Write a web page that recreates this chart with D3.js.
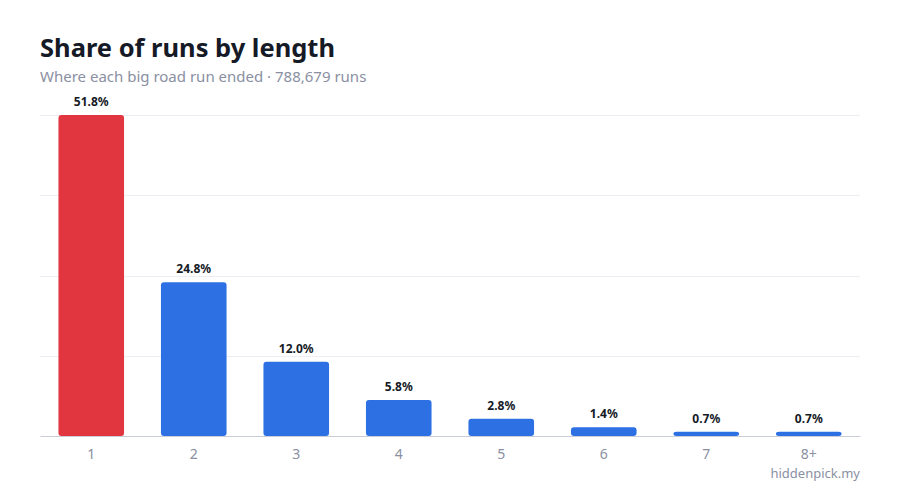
<!DOCTYPE html>
<html>
<head>
<meta charset="utf-8">
<script src="https://cdn.jsdelivr.net/npm/d3@7"></script>
<style>
  body { margin: 0; background: #fff; }
  svg { display: block; font-family: "Noto Sans", "Open Sans", sans-serif; }
</style>
</head>
<body>
<div id="chart"></div>
<script>
var categories = ["1", "2", "3", "4", "5", "6", "7", "8+"];
var shares = [51.8, 24.8, 12.0, 5.8, 2.8, 1.4, 0.7, 0.7];
var highlight = "1";

var width = 900, height = 500,
    plotLeft = 40, plotRight = 860, plotTop = 115, plotBottom = 436;

var svg = d3.select("#chart").append("svg")
    .attr("width", width)
    .attr("height", height);

var x = d3.scaleBand()
    .domain(categories)
    .range([plotLeft, plotRight])
    .paddingInner(0.36)
    .paddingOuter(0.18);

var y = d3.scaleLinear()
    .domain([0, d3.max(shares)])
    .range([plotBottom, plotTop]);

// title block
svg.append("text")
   .attr("x", 40).attr("y", 57)
   .attr("font-size", 25.5).attr("font-weight", 700)
   .attr("fill", "#151a26")
   .text("Share of runs by length");
svg.append("text")
   .attr("x", 40).attr("y", 82)
   .attr("font-size", 15)
   .attr("fill", "#8a90a2")
   .text("Where each big road run ended · 788,679 runs");

// grid
var gridTicks = d3.range(1, 5).map(function(i){ return d3.max(shares) * i / 4; });
svg.append("g").selectAll("line")
   .data(gridTicks)
   .join("line")
   .attr("x1", plotLeft).attr("x2", plotRight)
   .attr("y1", function(d){ return Math.round(y(d)) + 0.5; })
   .attr("y2", function(d){ return Math.round(y(d)) + 0.5; })
   .attr("stroke", "#eceef3")
   .attr("stroke-width", 1);

// bars
var data = categories.map(function(c, i){ return {cat: c, v: shares[i]}; });
svg.append("g").selectAll("rect")
   .data(data)
   .join("rect")
   .attr("x", function(d){ return x(d.cat); })
   .attr("y", function(d){ return y(d.v); })
   .attr("width", x.bandwidth())
   .attr("height", function(d){ return plotBottom - y(d.v); })
   .attr("rx", 3).attr("ry", 3)
   .attr("fill", function(d){ return d.cat === highlight ? "#e1353f" : "#2d70e3"; });

// value labels
svg.append("g").selectAll("text")
   .data(data)
   .join("text")
   .attr("x", function(d){ return x(d.cat) + x.bandwidth() / 2; })
   .attr("y", function(d){ return y(d.v) - 9; })
   .attr("text-anchor", "middle")
   .attr("font-size", 12).attr("font-weight", 700)
   .attr("fill", "#151a26")
   .text(function(d){ return d.v.toFixed(1) + "%"; });

// x axis
var xAxis = svg.append("g")
   .attr("transform", "translate(0," + plotBottom + ")")
   .call(d3.axisBottom(x).tickSize(0).tickPadding(13));
xAxis.select(".domain").attr("stroke", "#c9cdd8");
xAxis.selectAll("text")
   .attr("font-size", 14)
   .attr("font-family", "\"Noto Sans\", sans-serif")
   .attr("fill", "#8a90a2");

// source
svg.append("text")
   .attr("x", plotRight).attr("y", 478)
   .attr("text-anchor", "end")
   .attr("font-size", 13)
   .attr("fill", "#8a90a2")
   .text("hiddenpick.my");
</script>
</body>
</html>
